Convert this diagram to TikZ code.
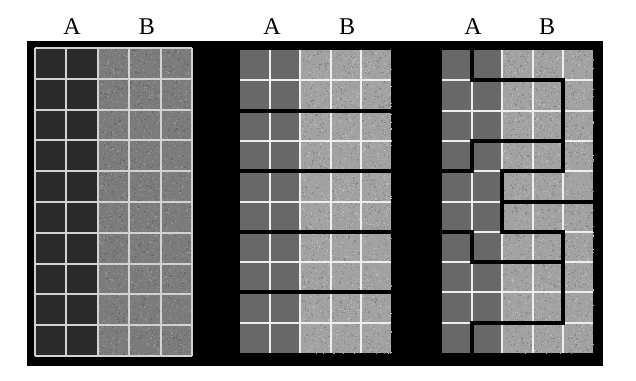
\documentclass[tikz,border=0pt]{standalone}
\usepackage{fontspec}
\setmainfont{Liberation Serif}
\definecolor{darkA}{HTML}{2B2B2B}
\definecolor{midB}{HTML}{7C7C7C}
\definecolor{midA}{HTML}{686868}
\definecolor{lightB}{HTML}{A2A2A2}
\definecolor{lineOne}{HTML}{D2D2D2}
\definecolor{lineTwo}{HTML}{EEEEEE}
\tikzset{
  label/.style={font=\fontsize{24}{24}\selectfont, anchor=base, inner sep=0pt},
  gridOne/.style={draw=lineOne, line width=2pt},
  gridTwo/.style={draw=lineTwo, line width=2pt},
  district/.style={draw=black, line width=4pt, line join=miter, line cap=rect},
}
% speckle the B area (columns 2..5) of the current grid with light and dark grains
\newcommand{\grainB}[3]{%
  \foreach \k in {1,...,#1}{%
    \pgfmathsetmacro\gx{2+rnd*3}%
    \pgfmathsetmacro\gy{rnd*10}%
    \fill[#2] (\gx,\gy) rectangle ++(1.2pt,-1.2pt);%
    \pgfmathsetmacro\gx{2+rnd*3}%
    \pgfmathsetmacro\gy{rnd*10}%
    \fill[#3] (\gx,\gy) rectangle ++(1.2pt,-1.2pt);%
  }%
}
\begin{document}
\begin{tikzpicture}[x=1pt, y=-1pt]
\pgfmathsetseed{7}
\useasboundingbox (0,0) rectangle (636,380);
\fill[white] (0,0) rectangle (636,380);
% black board behind the three grids
\fill[black] (27,41) rectangle (603,366);

% column labels
\node[label] (a1) at (72,34) {A};
\node[label] (b1) at (147,34) {B};
\node[label] (a2) at (272,34) {A};
\node[label] (b2) at (347,34) {B};
\node[label] (a3) at (473,34) {A};
\node[label] (b3) at (547,34) {B};

% left grid: all precincts with an outer frame
\begin{scope}[shift={(35,48)}, x=31.4pt, y=-30.8pt]
  \fill[darkA] (0,0) rectangle (2,10);
  \fill[midB] (2,0) rectangle (5,10);
  \grainB{1400}{midB!85!white}{midB!85!black}
  \foreach \i in {0,...,5} \draw[gridOne] (\i,0) -- (\i,10);
  \foreach \j in {0,...,10} \draw[gridOne] (0,\j) -- (5,\j);
\end{scope}

% middle grid: five horizontal districts
\begin{scope}[shift={(240,50)}, x=30.2pt, y=-30.3pt]
  \fill[midA] (0,0) rectangle (2,10);
  \fill[lightB] (2,0) rectangle (5,10);
  \grainB{1400}{lightB!80!white}{lightB!85!black}
  \foreach \i in {1,...,4} \draw[gridTwo] (\i,0) -- (\i,10);
  \foreach \j in {1,...,9} \draw[gridTwo] (0,\j) -- (5,\j);
  \foreach \j in {2,4,6,8} \draw[district] (-0.1,\j) -- (5.1,\j);
\end{scope}

% right grid: winding districts
\begin{scope}[shift={(442,50)}, x=30.2pt, y=-30.3pt]
  \fill[midA] (0,0) rectangle (2,10);
  \fill[lightB] (2,0) rectangle (5,10);
  \grainB{1400}{lightB!80!white}{lightB!85!black}
  \foreach \i in {1,...,4} \draw[gridTwo] (\i,0) -- (\i,10);
  \foreach \j in {1,...,9} \draw[gridTwo] (0,\j) -- (5,\j);
  \draw[district] (1,-0.1) -- (1,1) -- (4,1) -- (4,4) -- (2,4) -- (2,6)
                  -- (4,6) -- (4,9) -- (1,9) -- (1,10.1);
  \draw[district] (-0.1,4) -- (1,4) -- (1,3) -- (4,3);
  \draw[district] (2,5) -- (5.1,5);
  \draw[district] (-0.1,6) -- (1,6) -- (1,7) -- (4,7);
\end{scope}
\end{tikzpicture}
\end{document}
